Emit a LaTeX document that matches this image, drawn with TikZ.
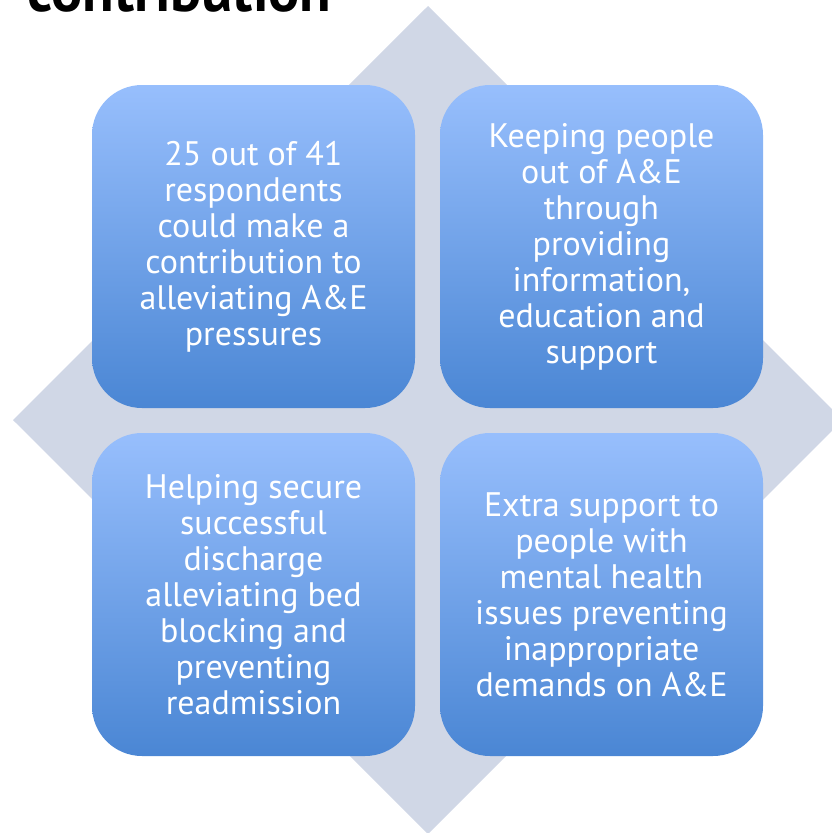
\documentclass[tikz,border=0pt]{standalone}
\usepackage{fontspec}
\setmainfont{PT Sans}
\usetikzlibrary{positioning}
\definecolor{diamcol}{HTML}{D0D7E6}
\definecolor{boxtop}{HTML}{9CC2FF}
\definecolor{boxbot}{HTML}{3B7BCC}
\pgfdeclareverticalshading{boxshade}{100bp}{color(0bp)=(boxbot); color(15bp)=(boxbot); color(78bp)=(boxtop); color(100bp)=(boxtop)}

\begin{document}
\begin{tikzpicture}[
    x=1pt, y=-1pt,
    every node/.style={font=\fontsize{34}{36}\selectfont},
    card/.style={rectangle, rounded corners=50pt, shading=boxshade,
                 minimum width=323pt, minimum height=323pt, inner sep=0pt,
                 text=white, align=center},
    heading/.style={font=\fontsize{58}{64}\selectfont\bfseries, text=black, anchor=base west},
]
\useasboundingbox (0,0) rectangle (832,833);

% ================================================================ backdrop
\fill[diamcol] (428,6) -- (843,420) -- (428,834) -- (13,420) -- cycle;

\node[heading] (title) at (24,11) {contribution};

% ================================================================ the four cards
\node[card] (tl) at (253.5,246.5) {25 out of 41\\respondents\\could make a\\contribution to\\alleviating A\&E\\pressures};
\node[card] (tr) at (601.5,246.5) {Keeping people\\out of A\&E\\through\\providing\\information,\\education and\\support};
\node[card] (bl) at (253.5,594.5) {Helping secure\\successful\\discharge\\alleviating bed\\blocking and\\preventing\\readmission};
\node[card] (br) at (601.5,594.5) {Extra support to\\people with\\mental health\\issues preventing\\inappropriate\\demands on A\&E};

\end{tikzpicture}
\end{document}
